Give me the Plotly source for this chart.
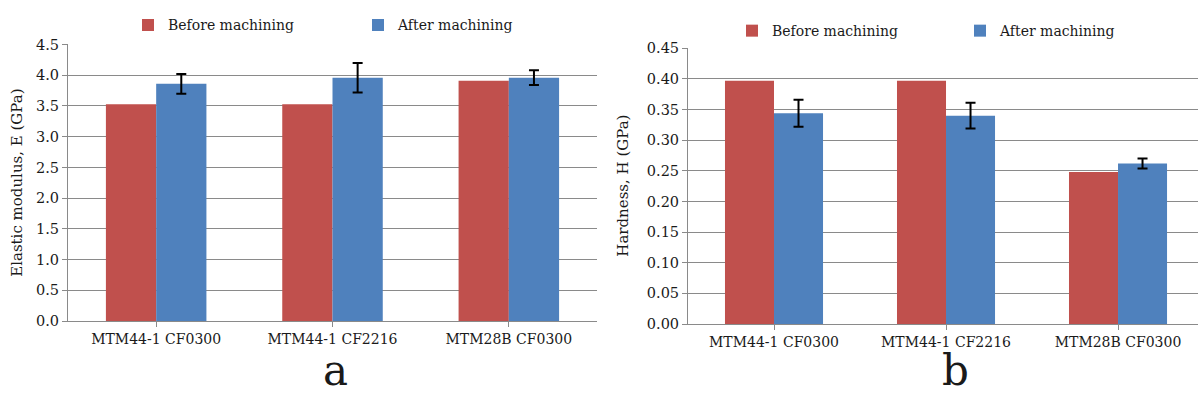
import plotly.graph_objects as go

categories = ["MTM44-1 CF0300", "MTM44-1 CF2216", "MTM28B CF0300"]
series_names = ["Before machining", "After machining"]
E_before = [3.53, 3.53, 3.91]
E_after = [3.86, 3.96, 3.96]
E_after_err = [0.16, 0.24, 0.12]
H_before = [0.397, 0.397, 0.248]
H_after = [0.344, 0.340, 0.262]
H_after_err = [0.022, 0.021, 0.008]
panel_labels = ["a", "b"]
y_titles = ["Elastic modulus, E (GPa)", "Hardness, H (GPa)"]

RED = "#C0504D"
BLUE = "#4F81BD"
GRID = "#8a8a8a"
FONT = "DejaVu Serif"
TXT = "#1a1a1a"
W, H = 1198, 405

def px(x):
    return x / W

def py(y):
    return (H - y) / H

fig = go.Figure()

err_style = dict(type="data", visible=True, color="black", thickness=2, width=5)

fig.add_trace(go.Bar(x=categories, y=E_before, name=series_names[0], marker=dict(color=RED, line=dict(width=0)),
                     xaxis="x", yaxis="y", legend="legend"))
fig.add_trace(go.Bar(x=categories, y=E_after, name=series_names[1], marker=dict(color=BLUE, line=dict(width=0)),
                     error_y=dict(array=E_after_err, **err_style), xaxis="x", yaxis="y", legend="legend2"))
fig.add_trace(go.Bar(x=categories, y=H_before, name=series_names[0], marker=dict(color=RED, line=dict(width=0)),
                     xaxis="x2", yaxis="y2", legend="legend3"))
fig.add_trace(go.Bar(x=categories, y=H_after, name=series_names[1], marker=dict(color=BLUE, line=dict(width=0)),
                     error_y=dict(array=H_after_err, **err_style), xaxis="x2", yaxis="y2", legend="legend4"))

xcommon = dict(type="category", showgrid=False, showline=True, linecolor=GRID, linewidth=1,
               ticks="outside", ticklen=5, tickcolor=GRID, zeroline=False,
               tickfont=dict(family=FONT, size=14, color=TXT), fixedrange=True)
ycommon = dict(showgrid=True, gridcolor=GRID, gridwidth=1, showline=True, linecolor=GRID, linewidth=1,
               ticks="outside", ticklen=5, tickcolor=GRID, zeroline=False,
               tickfont=dict(family=FONT, size=14.5, color=TXT), fixedrange=True)

leg_common = dict(orientation="h", bgcolor="rgba(0,0,0,0)", borderwidth=0,
                  font=dict(family=FONT, size=14, color=TXT), xanchor="left", yanchor="middle",
                  itemclick=False, itemdoubleclick=False)

fig.update_layout(
    width=W, height=H, margin=dict(l=0, r=0, t=0, b=0),
    paper_bgcolor="white", plot_bgcolor="white",
    font=dict(family=FONT, size=14, color=TXT),
    barmode="group", bargap=0.43, bargroupgap=0,
    xaxis=dict(domain=[px(68), px(597)], range=[-0.5, 2.5], anchor="y", **xcommon),
    yaxis=dict(domain=[py(326), py(38)], range=[0, 4.5], dtick=0.5, tickformat=".1f", anchor="x", **ycommon),
    xaxis2=dict(domain=[px(688), 1.0], range=[-0.5, 2.465], anchor="y2", **xcommon),
    yaxis2=dict(domain=[py(329), py(42)], range=[0, 0.45], dtick=0.05, tickformat=".2f", anchor="x2", **ycommon),
    legend=dict(x=px(128), y=py(18), **leg_common),
    legend2=dict(x=px(358), y=py(18), **leg_common),
    legend3=dict(x=px(732), y=py(24), **leg_common),
    legend4=dict(x=px(960), y=py(24), **leg_common),
    showlegend=True,
    annotations=[
        dict(text=y_titles[0], x=px(17), y=py(182), xref="paper", yref="paper", textangle=-90,
             showarrow=False, font=dict(family=FONT, size=15, color=TXT), xanchor="center", yanchor="middle"),
        dict(text=y_titles[1], x=px(623), y=py(185), xref="paper", yref="paper", textangle=-90,
             showarrow=False, font=dict(family=FONT, size=15, color=TXT), xanchor="center", yanchor="middle"),
        dict(text=panel_labels[0], x=px(335), y=0, xref="paper", yref="paper",
             showarrow=False, font=dict(family=FONT, size=42, color=TXT), xanchor="center", yanchor="bottom"),
        dict(text=panel_labels[1], x=px(955), y=0, xref="paper", yref="paper",
             showarrow=False, font=dict(family=FONT, size=42, color=TXT), xanchor="center", yanchor="bottom"),
    ],
)

fig.write_html("out.html")
